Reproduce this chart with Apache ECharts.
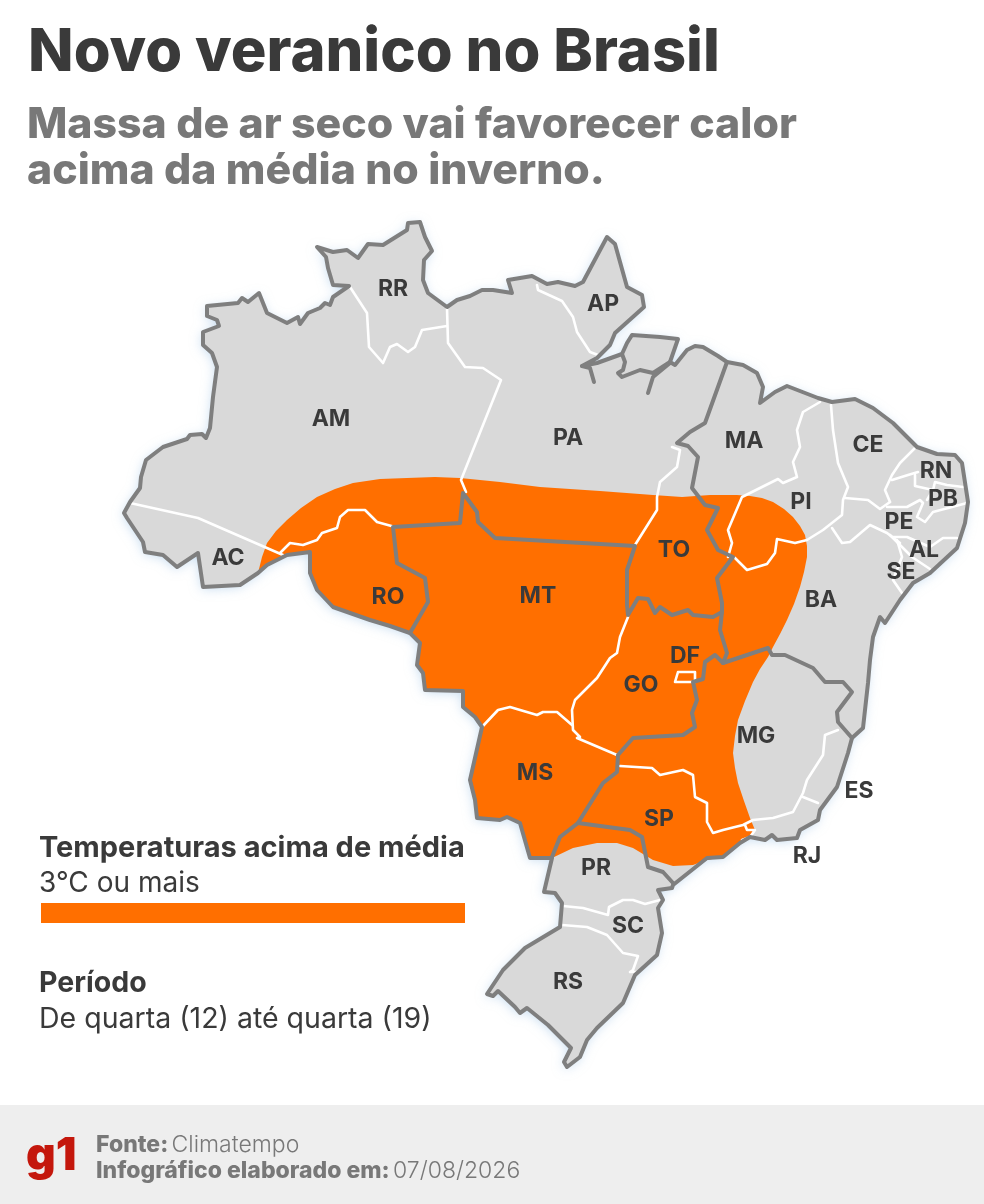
<!DOCTYPE html>
<html>
<head>
<meta charset="utf-8">
<title>Novo veranico no Brasil</title>
<style>
html, body { margin: 0; padding: 0; background: #fff; }
#chart { width: 984px; height: 1204px; }
</style>
<script src="https://cdn.jsdelivr.net/npm/echarts@6/dist/echarts.min.js"></script>
</head>
<body>
<div id="chart"></div>
<script>
// estados: sigla e posicao do rotulo no mapa
var stateCodes = ['RR','AP','AM','PA','MA','CE','RN','PB','PI','PE','AL','SE','AC','TO','RO','MT','BA','DF','GO','MG','MS','ES','SP','RJ','PR','SC','RS'];
var stateCenters = [[393,288],[603,303],[331,418],[568,437],[744,440],[868,444],[936,470],[943,498],[801,501],[899,521],[924,549],[901,571],[228,557],[674,549],[388,596],[538,595],[821,599],[685,655],[641,684],[756,735],[535,772],[859,790],[659,818],[807,855],[596,867],[628,925],[568,981]];

// contorno do pais
var coastNorth = [[258,573],[240,585],[203,587],[198,553],[177,567],[163,555],[145,552],[143,542],[127,518],[124,513],[130,502],[140,488],[141,477],[146,460],[163,447],[187,439],[190,435],[202,434],[206,438],[210,428],[213,397],[217,367],[212,353],[203,345],[203,332],[219,326],[217,320],[207,316],[207,306],[238,303],[242,298],[248,302],[259,293],[267,313],[287,323],[298,317],[300,324],[308,313],[320,308],[325,303],[330,305],[333,297],[349,286],[333,285],[328,268],[326,257],[317,247],[333,252],[347,250],[358,258],[368,244],[383,245],[407,230],[408,223],[420,222],[425,237],[432,251],[424,260],[423,280],[428,293],[447,307],[457,300],[470,296],[482,290],[493,290],[512,293],[508,280],[532,276],[547,284],[558,282],[575,286],[583,282],[607,237],[615,244],[627,287],[642,295],[644,307],[615,333],[610,345],[597,358],[582,366],[597,363],[622,354],[627,343],[632,335],[660,337],[678,339],[670,362],[675,365],[687,350],[695,346],[703,347],[718,356],[727,362],[743,365],[757,373],[763,387],[760,403],[775,392],[787,386],[818,398],[832,402],[855,399],[873,408],[893,423],[917,447],[937,454],[955,455],[962,463],[968,502],[965,523],[957,548],[930,573],[913,583],[900,600],[885,623],[880,617],[873,637],[870,660],[868,683],[863,728],[852,738],[848,753],[837,787],[820,810],[818,820],[800,830],[797,838],[777,840],[772,835],[765,840],[750,837]];
var coastSouth = [[750,837],[740,843],[723,857],[707,858],[673,885],[672,888],[658,890],[663,900],[658,908],[662,933],[657,955],[635,975],[623,1003],[597,1028],[587,1040],[580,1057],[567,1067],[564,1062],[571,1048],[548,1025],[527,1008],[520,1013],[515,1007],[498,991],[493,996],[487,994],[503,970],[520,953],[525,948],[560,927],[562,903],[555,893],[544,892],[552,858]];
var coastWest = [[552,858],[530,858],[520,823],[507,817],[500,820],[477,818],[475,800],[470,780],[482,727],[475,717],[463,707],[463,691],[425,690],[423,673],[417,665],[420,643],[410,633],[390,626],[370,620],[333,607],[317,590],[310,573],[310,552],[287,555],[267,565],[258,573]];

// limite da area de calor (3 graus ou mais)
var heatEdge = [[258,573],[262,557],[267,543],[276,531],[287,520],[301,508],[317,497],[335,489],[353,483],[380,479],[407,478],[435,477],[460,478],[500,482],[540,487],[600,491],[653,495],[682,497],[710,495],[737,495],[750,496],[762,498],[773,502],[784,509],[793,517],[800,526],[805,535],[807,546],[807,557],[804,572],[800,587],[794,604],[787,620],[780,634],[773,647],[768,657],[760,669],[753,682],[745,701],[738,720],[735,736],[733,753],[735,768],[738,783],[744,801],[750,818],[755,830],[750,837],[740,843],[723,857],[707,860],[693,865],[673,866],[653,860],[633,848],[617,843],[597,843],[573,848],[552,858]];

// divisas entre regioes (cinza escuro)
var regionBorders = [
	[[410,633],[428,602],[425,578],[397,563],[393,527],[460,523],[463,493],[477,512],[478,522],[495,538],[635,546],[627,570],[627,605],[628,615],[638,598],[648,599],[655,613],[660,607],[672,615],[688,610],[693,615],[713,617],[722,612]],
	[[727,362],[705,423],[690,432],[677,443],[688,446],[698,457],[692,488],[705,505],[718,508],[707,530],[718,550],[733,557],[717,578],[722,603],[722,612],[720,630],[727,653],[723,663],[715,655],[705,662],[703,679],[693,682],[697,700],[692,713],[695,727],[683,735],[633,738],[618,755],[617,772],[603,783],[578,823],[560,837],[552,857]],
	[[723,663],[768,648],[772,655],[785,655],[813,668],[825,682],[843,682],[852,692],[837,712],[838,722],[852,738]],
	[[578,823],[630,830],[642,837],[648,867],[663,872],[673,883]],
	[[582,366],[590,368],[594,382]],
	[[670,363],[653,377],[648,393]],
	[[622,354],[625,362],[623,370],[618,373],[622,377],[640,370],[653,373],[670,362]]
];

// divisas entre estados (branco)
var stateBorders = [
	[[130,503],[198,518],[283,555]],
	[[280,553],[290,543],[303,545],[317,540],[322,533],[337,528],[340,517],[348,510],[365,510],[377,522],[395,527]],
	[[350,287],[367,313],[369,347],[383,363],[390,347],[397,344],[408,352],[415,347],[422,330],[447,326]],
	[[447,308],[448,343],[465,367],[483,368],[501,380],[461,480],[466,492]],
	[[537,285],[538,290],[562,301],[573,317],[577,332],[590,352],[598,355]],
	[[672,447],[680,450],[677,467],[660,482],[657,497],[657,510],[635,545]],
	[[820,402],[803,412],[797,430],[800,447],[793,462],[797,477],[783,483],[778,479],[760,488],[742,497],[728,530],[732,543],[728,557]],
	[[735,558],[747,570],[767,564],[775,553],[777,539],[795,543],[807,540],[823,530],[842,515],[843,500],[848,487],[838,463],[833,430],[831,405]],
	[[845,498],[868,500],[880,509],[890,502]],
	[[832,528],[842,543],[850,542],[870,525],[887,533],[900,543]],
	[[915,448],[900,463],[892,475],[885,490],[890,502]],
	[[892,480],[908,475],[918,472]],
	[[915,475],[915,486],[933,490],[927,500]],
	[[933,490],[935,482],[947,485],[963,487]],
	[[887,507],[907,507],[920,500],[923,503],[917,517],[925,522],[933,512],[967,503]],
	[[893,537],[907,537],[930,547],[943,538],[957,538]],
	[[890,535],[912,557],[930,569]],
	[[897,540],[902,557],[893,580],[902,593]],
	[[838,730],[825,735],[823,755],[807,780],[803,793],[793,812],[773,818],[753,820],[743,825],[723,830],[713,833],[707,822],[707,803],[695,797],[693,775],[683,770],[660,775],[652,768],[620,766]],
	[[803,797],[818,803]],
	[[745,825],[747,830],[755,830],[750,837],[742,840]],
	[[628,617],[620,637],[617,653],[610,658],[597,678],[575,700],[572,710],[573,730],[580,737],[577,738],[617,755]],
	[[482,727],[498,710],[510,707],[537,715],[543,712],[557,712],[572,725]],
	[[678,672],[695,672],[695,682],[675,682],[678,672]],
	[[563,906],[583,908],[608,915],[609,907],[623,900],[633,900],[645,904],[660,900]],
	[[562,925],[587,927],[607,935],[623,953],[638,956],[633,970],[630,972],[636,972]]
];

// a imagem tem y para baixo, o geojson tem y para cima
function flip(list) {
	return list.map(function(p) { return [p[0], -p[1]]; });
}
function feature(name, ring) {
	return { type: 'Feature', properties: { name: name }, geometry: { type: 'Polygon', coordinates: [flip(ring)] } };
}

var outline = coastNorth.concat(coastSouth.slice(1), coastWest.slice(1));
var heatArea = coastWest.concat(heatEdge.slice(1));

echarts.registerMap('brasil', {
	type: 'FeatureCollection',
	features: [feature('Brasil', outline), feature('Calor', heatArea)]
});

var FONT = 'Inter';
var DARK = '#3a3a3a';
var GREY = '#787878';
var ORANGE = '#ff6f00';
var LAND = '#d9d9d9';

function text(x, y, str, size, weight, color) {
	return {
		type: 'text', x: x, y: y, silent: true,
		style: { text: str, fontFamily: FONT, fontSize: size, fontWeight: weight, fill: color, textVerticalAlign: 'middle' }
	};
}

var myChart = echarts.init(document.getElementById('chart'), null, { renderer: 'canvas' });
myChart.setOption({
	backgroundColor: '#fff',
	animation: false,
	graphic: [
		text(28, 53, 'Novo veranico no Brasil', 59.6, 800, DARK),
		text(27, 125, 'Massa de ar seco vai favorecer calor', 42.8, 800, GREY),
		text(27, 171, 'acima da média no inverno.', 42.8, 800, GREY),
		text(39, 848, 'Temperaturas acima de média', 29, 700, DARK),
		text(39, 884, '3°C ou mais', 28, 400, DARK),
		{ type: 'rect', silent: true, shape: { x: 41, y: 903, width: 424, height: 20 }, style: { fill: ORANGE } },
		text(39, 983, 'Período', 28.5, 700, DARK),
		text(39, 1019, 'De quarta (12) até quarta (19)', 28.5, 400, DARK),
		{ type: 'rect', silent: true, z: -1, shape: { x: 0, y: 1105, width: 984, height: 99 }, style: { fill: '#eeeeee' } },
		text(26, 1156, 'g1', 46, 900, '#c4170c'),
		{
			type: 'text', x: 96, y: 1145, silent: true,
			style: {
				text: '{b|Fonte:} {l|Climatempo}', textVerticalAlign: 'middle',
				rich: {
					b: { fontFamily: FONT, fontSize: 23, fontWeight: 800, fill: GREY },
					l: { fontFamily: FONT, fontSize: 23, fontWeight: 300, fill: GREY }
				}
			}
		},
		{
			type: 'text', x: 96, y: 1171, silent: true,
			style: {
				text: '{b|Infográfico elaborado em:} {l|07/08/2026}', textVerticalAlign: 'middle',
				rich: {
					b: { fontFamily: FONT, fontSize: 23, fontWeight: 800, fill: GREY },
					l: { fontFamily: FONT, fontSize: 23, fontWeight: 300, fill: GREY }
				}
			}
		}
	],
	geo: {
		map: 'brasil',
		roam: false,
		silent: true,
		aspectScale: 1,
		boundingCoords: [[0, 0], [984, -1204]],
		left: 0, top: 0, width: 984, height: 1204,
		label: { show: false },
		itemStyle: { areaColor: LAND, borderWidth: 0 },
		regions: [
			{ name: 'Brasil', itemStyle: { areaColor: LAND, shadowColor: 'rgba(150,190,225,0.55)', shadowBlur: 12, shadowOffsetX: -1, shadowOffsetY: 2 } },
			{ name: 'Calor', itemStyle: { areaColor: ORANGE } }
		]
	},
	series: [
		{
			type: 'lines', coordinateSystem: 'geo', polyline: true, silent: true, z: 3,
			lineStyle: { color: '#fff', width: 2.6, opacity: 1, cap: 'round', join: 'round' },
			data: stateBorders.map(function(b) { return { coords: flip(b) }; })
		},
		{
			type: 'lines', coordinateSystem: 'geo', polyline: true, silent: true, z: 4,
			lineStyle: { color: '#7f7f7f', width: 4, opacity: 1, cap: 'round', join: 'round' },
			data: regionBorders.concat([outline]).map(function(b) { return { coords: flip(b) }; })
		},
		{
			type: 'scatter', coordinateSystem: 'geo', silent: true, z: 5,
			symbolSize: 0,
			itemStyle: { opacity: 1 },
			label: {
				show: true, position: 'inside', offset: [0, 1], fontFamily: FONT, fontSize: 23, fontWeight: 700, color: DARK, opacity: 1,
				formatter: function(p) { return p.name; }
			},
			data: stateCodes.map(function(code, i) {
				var c = stateCenters[i];
				return { name: code, value: [c[0], -c[1]] };
			})
		}
	]
});
</script>
</body>
</html>
